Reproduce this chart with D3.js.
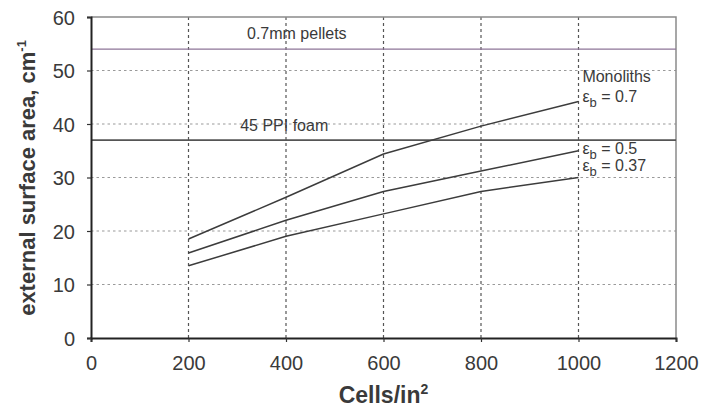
<!DOCTYPE html>
<html>
<head>
<meta charset="utf-8">
<script src="https://cdn.jsdelivr.net/npm/d3@7"></script>
<style>
  body { margin: 0; background: #fff; }
  text { font-family: "Liberation Sans", Arial, sans-serif; fill: #3a3a3a; }
</style>
</head>
<body>
<svg id="chart" width="705" height="412"></svg>
<script>
// cell densities (cells/in2) and external surface area (cm-1)
const cells = [200, 400, 600, 800, 1000];
const eps070 = [18.5, 26.3, 34.4, 39.6, 44.2];
const eps050 = [15.9, 22.0, 27.4, 31.2, 35.0];
const eps037 = [13.5, 19.0, 23.2, 27.4, 30.0];
const pelletsLevel = 54;
const foamLevel = 37;
const xTicks = [0, 200, 400, 600, 800, 1000, 1200];
const yTicks = [0, 10, 20, 30, 40, 50, 60];

const margin = { top: 17, right: 29, bottom: 74, left: 91 };
const svg = d3.select('#chart');
const width = +svg.attr('width') - margin.left - margin.right;
const height = +svg.attr('height') - margin.top - margin.bottom;

const g = svg.append('g')
  .attr('transform', `translate(${margin.left},${margin.top})`);

const x = d3.scaleLinear().domain([0, 1200]).range([0, width]);
const y = d3.scaleLinear().domain([0, 60]).range([height, 0]);

// grid
g.append('g')
  .selectAll('line')
  .data(yTicks.filter(d => d > 0 && d < 60))
  .join('line')
    .attr('x1', 0).attr('x2', width)
    .attr('y1', d => y(d)).attr('y2', d => y(d))
    .attr('stroke', '#9a9a9a')
    .attr('stroke-width', 1.2)
    .attr('stroke-dasharray', '2.5,3');

g.append('g')
  .selectAll('line')
  .data(xTicks.filter(d => d > 0 && d < 1200))
  .join('line')
    .attr('x1', d => x(d)).attr('x2', d => x(d))
    .attr('y1', 0).attr('y2', height)
    .attr('stroke', '#555')
    .attr('stroke-width', 1.2)
    .attr('stroke-dasharray', '3,3');

// frame (top / right)
g.append('path')
  .attr('d', `M0,0H${width}V${height}`)
  .attr('fill', 'none')
  .attr('stroke', '#8a8a8a')
  .attr('stroke-width', 1.5);

// reference levels
g.append('line')
  .attr('x1', 0).attr('x2', width)
  .attr('y1', y(pelletsLevel)).attr('y2', y(pelletsLevel))
  .attr('stroke', '#8d7597')
  .attr('stroke-width', 1.4);

g.append('line')
  .attr('x1', 0).attr('x2', width)
  .attr('y1', y(foamLevel)).attr('y2', y(foamLevel))
  .attr('stroke', '#555')
  .attr('stroke-width', 1.8);

// monolith curves
const line = d3.line()
  .x(d => x(d[0]))
  .y(d => y(d[1]));

[eps070, eps050, eps037].forEach(vals => {
  g.append('path')
    .datum(cells.map((c, i) => [c, vals[i]]))
    .attr('d', line)
    .attr('fill', 'none')
    .attr('stroke', '#3c3c3c')
    .attr('stroke-width', 1.5);
});

// axes
const xAxis = g.append('g')
  .attr('transform', `translate(0,${height})`)
  .call(d3.axisBottom(x).tickValues(xTicks).tickFormat(d3.format('d')).tickSize(4).tickPadding(14));

const yAxis = g.append('g')
  .call(d3.axisLeft(y).tickValues(yTicks).tickFormat(d3.format('d')).tickSize(4).tickPadding(12));

[xAxis, yAxis].forEach(a => {
  a.select('.domain').attr('stroke', '#222').attr('stroke-width', 2);
  a.selectAll('.tick line').attr('stroke', '#333').attr('stroke-width', 1.2);
  a.selectAll('.tick text')
    .attr('font-size', 20)
    .attr('font-family', '"Liberation Sans", Arial, sans-serif')
    .attr('fill', '#3a3a3a');
});
yAxis.selectAll('.tick text').attr('dy', '0.36em');

// annotations
const note = (xv, yv, str) => g.append('text')
  .attr('x', x(xv)).attr('y', y(yv))
  .attr('font-size', 16)
  .text(str);

note(320, 55.8, '0.7mm pellets');
note(306, 38.6, '45 PPI foam');
note(1008, 47.8, 'Monoliths');

const epsLabel = (yv, val) => {
  const t = g.append('text')
    .attr('x', x(1008)).attr('y', y(yv))
    .attr('font-size', 16);
  t.append('tspan').text('\u03b5');
  t.append('tspan').attr('font-size', 13).attr('dy', 5).text('b');
  t.append('tspan').attr('dy', -5).text(' = ' + val);
};
epsLabel(44.2, '0.7');
epsLabel(34.4, '0.5');
epsLabel(31.2, '0.37');

// axis titles
svg.append('text')
  .attr('x', margin.left + width / 2)
  .attr('y', 403)
  .attr('text-anchor', 'middle')
  .attr('font-size', 23)
  .attr('font-weight', 'bold')
  .attr('fill', '#222')
  .call(t => {
    t.append('tspan').text('Cells/in');
    t.append('tspan').attr('font-size', 14).attr('dy', -9).text('2');
  });

svg.append('text')
  .attr('transform', 'translate(35,178) rotate(-90)')
  .attr('text-anchor', 'middle')
  .attr('font-size', 22)
  .attr('font-weight', 'bold')
  .attr('fill', '#222')
  .call(t => {
    t.append('tspan').text('external surface area, cm');
    t.append('tspan').attr('font-size', 13).attr('dy', -9).text('-1');
  });
</script>
</body>
</html>
